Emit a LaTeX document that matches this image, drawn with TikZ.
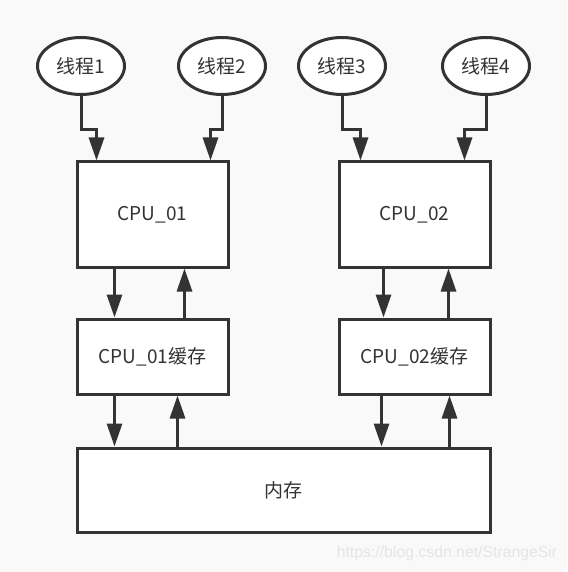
\documentclass[tikz,border=0pt]{standalone}
\usepackage{fontspec}
\setmainfont{Noto Sans CJK SC}
\newfontfamily\wmfont{Liberation Sans}
\usetikzlibrary{shapes.geometric,arrows.meta,calc}
\definecolor{ln}{HTML}{333333}
\definecolor{bg}{HTML}{F9F9F9}
\begin{document}
\begin{tikzpicture}[x=1pt,y=-1pt,
  thread/.style={ellipse,draw=ln,line width=3pt,fill=white,minimum width=87pt,minimum height=57pt,inner sep=0pt,font=\fontsize{19}{22}\selectfont,text=ln},
  boxx/.style={rectangle,draw=ln,line width=3pt,fill=white,inner sep=0pt,font=\fontsize{19}{22}\selectfont,text=ln},
  arr/.style={draw=ln,line width=3pt,-{Triangle[width=15pt,length=23pt]}}]
\fill[bg] (0,0) rectangle (567,572);
\useasboundingbox (0,0) rectangle (567,572);
% threads
\node[thread] (t1) at (81,66) {线程1};
\node[thread] (t2) at (222,66) {线程2};
\node[thread] (t3) at (342,66) {线程3};
\node[thread] (t4) at (486,66) {线程4};
% boxes
\node[boxx,minimum width=151pt,minimum height=105pt] (c1) at (152.5,214.5) {CPU\_01};
\node[boxx,minimum width=151pt,minimum height=105pt] (c2) at (414.5,214.5) {CPU\_02};
\node[boxx,minimum width=151pt,minimum height=75pt] (k1) at (152.5,356.5) {CPU\_01缓存};
\node[boxx,minimum width=151pt,minimum height=75pt] (k2) at (414.5,356.5) {CPU\_02缓存};
\node[boxx,minimum width=413pt,minimum height=84pt] (m) at (283.5,490) {内存};
% thread connectors
\coordinate (a1) at ($(c1.north west)+(21,0)$);
\coordinate (a2) at ($(c1.north west)+(135,0)$);
\coordinate (a3) at ($(c2.north west)+(23,0)$);
\coordinate (a4) at ($(c2.north west)+(127,0)$);
\draw[arr] (t1.south) -- ++(0,34) -| (a1);
\draw[arr] (t2.south) -- ++(0,34) -| (a2);
\draw[arr] (t3.south) -- ++(0,34) -| (a3);
\draw[arr] (t4.south) -- ++(0,34) -| (a4);
% CPU <-> cache
\draw[arr] ($(c1.south west)+(39,0)$) -- ($(k1.north west)+(39,0)$);
\draw[arr] ($(k1.north west)+(109,0)$) -- ($(c1.south west)+(109,0)$);
\draw[arr] ($(c2.south west)+(46,0)$) -- ($(k2.north west)+(46,0)$);
\draw[arr] ($(k2.north west)+(111,0)$) -- ($(c2.south west)+(111,0)$);
% cache <-> memory
\draw[arr] ($(k1.south west)+(39,0)$) -- ($(m.north west)+(39,0)$);
\draw[arr] ($(m.north west)+(102,0)$) -- ($(k1.south west)+(102,0)$);
\draw[arr] ($(k2.south west)+(44,0)$) -- ($(m.north west)+(306,0)$);
\draw[arr] ($(m.north west)+(374,0)$) -- ($(k2.south west)+(112,0)$);
% watermark
\node[font=\wmfont\fontsize{15.8}{18}\selectfont,text=black!10,anchor=center] (wm) at (447,553) {https://blog.csdn.net/StrangeSir};
\end{tikzpicture}
\end{document}
